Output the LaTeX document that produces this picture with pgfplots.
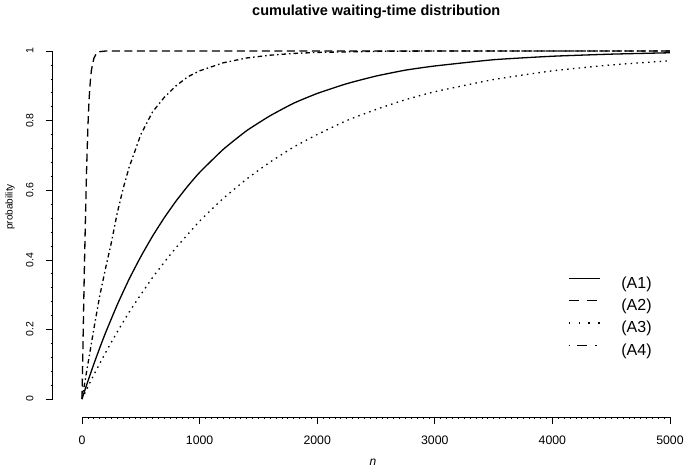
\documentclass[border=0pt]{standalone}
\usepackage{pgfplots}
\pgfplotsset{compat=1.18}
\usepackage{fontspec}
\setmainfont{Liberation Sans}

\pgfplotstableread{
n p
0 0
25 0.026
50 0.051
100 0.0999
150 0.146
200 0.190
300 0.271
400 0.344
500 0.409
600 0.468
700 0.521
800 0.569
900 0.612
1000 0.651
1200 0.717
1400 0.771
1600 0.814
1800 0.850
2000 0.878
2250 0.906
2500 0.928
2750 0.945
3000 0.957
3500 0.975
4000 0.985
4500 0.991
5000 0.995
}\Aone
\pgfplotstableread{
n p
0 0
5 0.09
10 0.19
15 0.28
20 0.37
25 0.45
30 0.53
40 0.67
50 0.78
60 0.86
70 0.91
80 0.945
100 0.978
120 0.992
150 0.998
200 1
5000 1
}\Atwo
\pgfplotstableread{
n p
0 0
50 0.035
100 0.069
200 0.133
300 0.193
400 0.249
500 0.300
600 0.349
700 0.393
800 0.435
1000 0.511
1200 0.576
1400 0.632
1600 0.681
1800 0.724
2000 0.760
2250 0.800
2500 0.832
2750 0.860
3000 0.883
3500 0.918
4000 0.943
4500 0.960
5000 0.972
}\Athree
\pgfplotstableread{
n p
0 0
25 0.05
50 0.1
100 0.2
150 0.295
200 0.375
250 0.45
300 0.535
350 0.605
400 0.665
500 0.76
600 0.825
700 0.867
800 0.9
900 0.926
1000 0.943
1200 0.966
1400 0.98
1600 0.988
1800 0.993
2000 0.996
2500 0.999
3000 1
5000 1
}\Afour

\begin{document}
\begin{tikzpicture}
\useasboundingbox (-52.6bp,-56.9bp) rectangle (632.4bp,417.1bp);
\begin{axis}[
  at={(0,0)}, anchor=south west,
  scale only axis, width=640.9bp, height=380bp,
  xmin=-250, xmax=5200, ymin=-0.052, ymax=1.04,
  clip=false,
  axis x line*=bottom, axis y line*=left,
  axis line style={draw=none},
  xtick={0,1000,2000,3000,4000,5000},
  xticklabels={0,1000,2000,3000,4000,5000},
  ytick={0,0.2,0.4,0.6,0.8,1},
  yticklabels={0,0.2,0.4,0.6,0.8,1},
  minor xtick={50,100,...,4950},
  minor ytick={0.04,0.08,...,0.97},
  tick align=outside,
  major tick length=7bp, minor tick length=2bp,
  every tick/.style={black, line width=0.6bp},
  xticklabel style={font=\fontsize{12.3bp}{14bp}\selectfont, anchor=north, inner sep=0pt},
  yticklabel style={font=\fontsize{10.5bp}{12bp}\selectfont, rotate=90, anchor=south, inner sep=0pt},
  xticklabel shift=11.5bp,
  yticklabel shift=12bp,
  title={cumulative waiting-time distribution},
  title style={font=\bfseries\fontsize{14.5bp}{17bp}\selectfont, at={(axis description cs:0.505,1.04)}, anchor=base, inner sep=0pt},
  xlabel={\textit{n}},
  xlabel style={font=\fontsize{12bp}{14bp}\selectfont, at={(axis description cs:0.5,-0.1184)}, anchor=center, inner sep=0pt},
  ylabel={probability},
  ylabel style={font=\fontsize{10bp}{12bp}\selectfont, at={(axis description cs:-0.0665,0.553)}, anchor=center, inner sep=0pt},
  legend style={draw=none, fill=none, at={(axis description cs:0.804,0.382)}, anchor=north west,
    inner sep=0pt, row sep=0pt, column sep=0pt,
    font=\fontsize{16bp}{19bp}\selectfont,
    nodes={inner sep=0pt, text height=16bp, text depth=6.4bp}},
  legend cell align=left,
  legend image code/.code={\draw[#1] (0bp,5bp) -- (31bp,5bp); \path (52bp,0bp);},
]
\draw[black, line width=0.7bp] (axis cs:0,-0.052) -- (axis cs:5000,-0.052);
\draw[black, line width=0.7bp] (axis cs:-250,0) -- (axis cs:-250,1);

\addlegendimage{black, line width=1.3bp}
\addlegendentry{(A1)}
\addlegendimage{black, line width=1.3bp, dash pattern=on 10bp off 8bp}
\addlegendentry{(A2)}
\addlegendimage{black, line width=1.3bp, dash pattern=on 1.5bp off 8.3bp}
\addlegendentry{(A3)}
\addlegendimage{black, line width=1.3bp, dash pattern=on 1.5bp off 6.8bp on 10bp off 8.4bp}
\addlegendentry{(A4)}

\addplot[forget plot, black, line width=1.3bp, smooth, tension=0.3] table[x=n,y=p] {\Aone};
\addplot[forget plot, black, line width=1.3bp, dash pattern=on 8bp off 4.5bp] table[x=n,y=p] {\Atwo};
\addplot[forget plot, black, line width=1.3bp, dash pattern=on 1.5bp off 4.3bp, smooth, tension=0.3] table[x=n,y=p] {\Athree};
\addplot[forget plot, black, line width=1.3bp, dash pattern=on 4.5bp off 3bp on 1.5bp off 3bp] table[x=n,y=p] {\Afour};
\end{axis}
\end{tikzpicture}
\end{document}
